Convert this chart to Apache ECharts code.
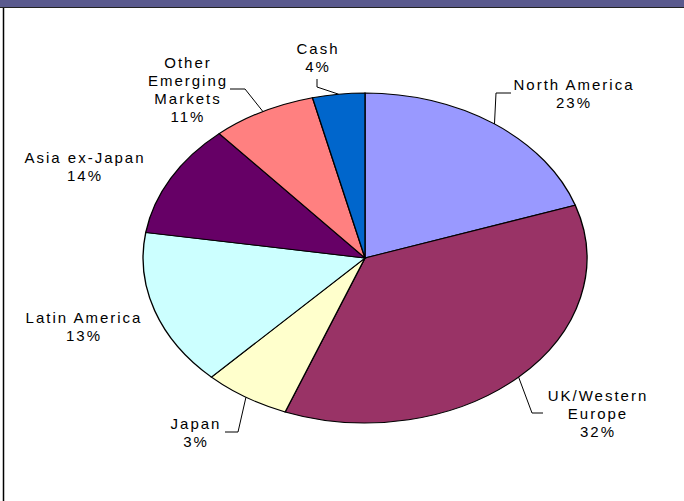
<!DOCTYPE html>
<html>
<head>
<meta charset="utf-8">
<style>
html,body{margin:0;padding:0;background:#fff}
#chart{width:684px;height:501px}
#chart text{letter-spacing:2px}
</style>
<script src="https://cdn.jsdelivr.net/npm/echarts@6/dist/echarts.min.js"></script>
</head>
<body>
<div id="chart"></div>
<script>
// slices clockwise from 12 o'clock
var categories = ['North America', 'UK/Western\nEurope', 'Japan', 'Latin America', 'Asia ex-Japan', 'Other\nEmerging\nMarkets', 'Cash'];
// share of the pie as drawn (%)
var sliceValues = [19.8, 36.0, 6.3, 15.3, 11.1, 7.6, 3.8];
// percentages printed in the labels
var labelPercents = [23, 32, 3, 13, 14, 11, 4];
var colors = ['#9999ff', '#993366', '#ffffcc', '#ccffff', '#660066', '#ff8080', '#0066cc'];

// layout
var cx = 365, cy = 258, rx = 222, ry = 165;
var labelPos = [[574, 93], [598, 413], [196, 432], [84, 326], [85, 166], [188, 89], [318, 57]];
var leaders = [[[496, 93], [511, 93]], [[532, 413], [543, 413]], [[238, 432], [225, 432]], null, null, [[245, 89], [230, 89]], [[317, 87], [317, 79]]];

var total = sliceValues.reduce(function (a, b) { return a + b; }, 0);

function renderItem(params, api) {
	var i = params.dataIndex;
	var before = 0;
	for (var k = 0; k < i; k++) before += sliceValues[k];
	var v = api.value(1);
	var a0 = -Math.PI / 2 + before / total * 2 * Math.PI;
	var a1 = a0 + v / total * 2 * Math.PI;
	var mid = (a0 + a1) / 2;
	var ex = cx + rx * Math.cos(mid), ey = cy + ry * Math.sin(mid);
	var children = [{
		type: 'sector',
		x: cx, y: cy, scaleX: rx / ry,
		shape: { cx: 0, cy: 0, r: ry, r0: 0, startAngle: a0, endAngle: a1, clockwise: true },
		style: { fill: colors[i], stroke: '#000', lineWidth: 1, strokeNoScale: true }
	}];
	if (leaders[i]) {
		children.push({
			type: 'polyline',
			shape: { points: [[ex, ey]].concat(leaders[i]) },
			style: { stroke: '#000', lineWidth: 1, fill: null }
		});
	}
	children.push({
		type: 'text',
		x: labelPos[i][0], y: labelPos[i][1],
		style: {
			text: categories[i] + '\n' + labelPercents[i] + '%',
			fill: '#000',
			fontSize: 15,
			fontFamily: '"Liberation Sans", Arial, sans-serif',
			lineHeight: 18,
			align: 'center', verticalAlign: 'middle',
			textAlign: 'center', textVerticalAlign: 'middle'
		}
	});
	return { type: 'group', children: children };
}

var myChart = echarts.init(document.getElementById('chart'), null, { renderer: 'svg' });
var option = {
	animation: false,
	graphic: [
		{ type: 'rect', shape: { x: 0, y: 0, width: 684, height: 7 }, style: { fill: '#5a5a8e' } },
		{ type: 'line', shape: { x1: 0, y1: 7.5, x2: 684, y2: 7.5 }, style: { stroke: '#222', lineWidth: 1 } },
		{ type: 'line', shape: { x1: 3.5, y1: 8, x2: 3.5, y2: 501 }, style: { stroke: '#000', lineWidth: 1.5 } }
	],
	series: [{
		type: 'custom',
		coordinateSystem: 'none',
		silent: true,
		renderItem: renderItem,
		data: categories.map(function (c, i) { return [i, sliceValues[i]]; })
	}]
};
myChart.setOption(option);
</script>
</body>
</html>
